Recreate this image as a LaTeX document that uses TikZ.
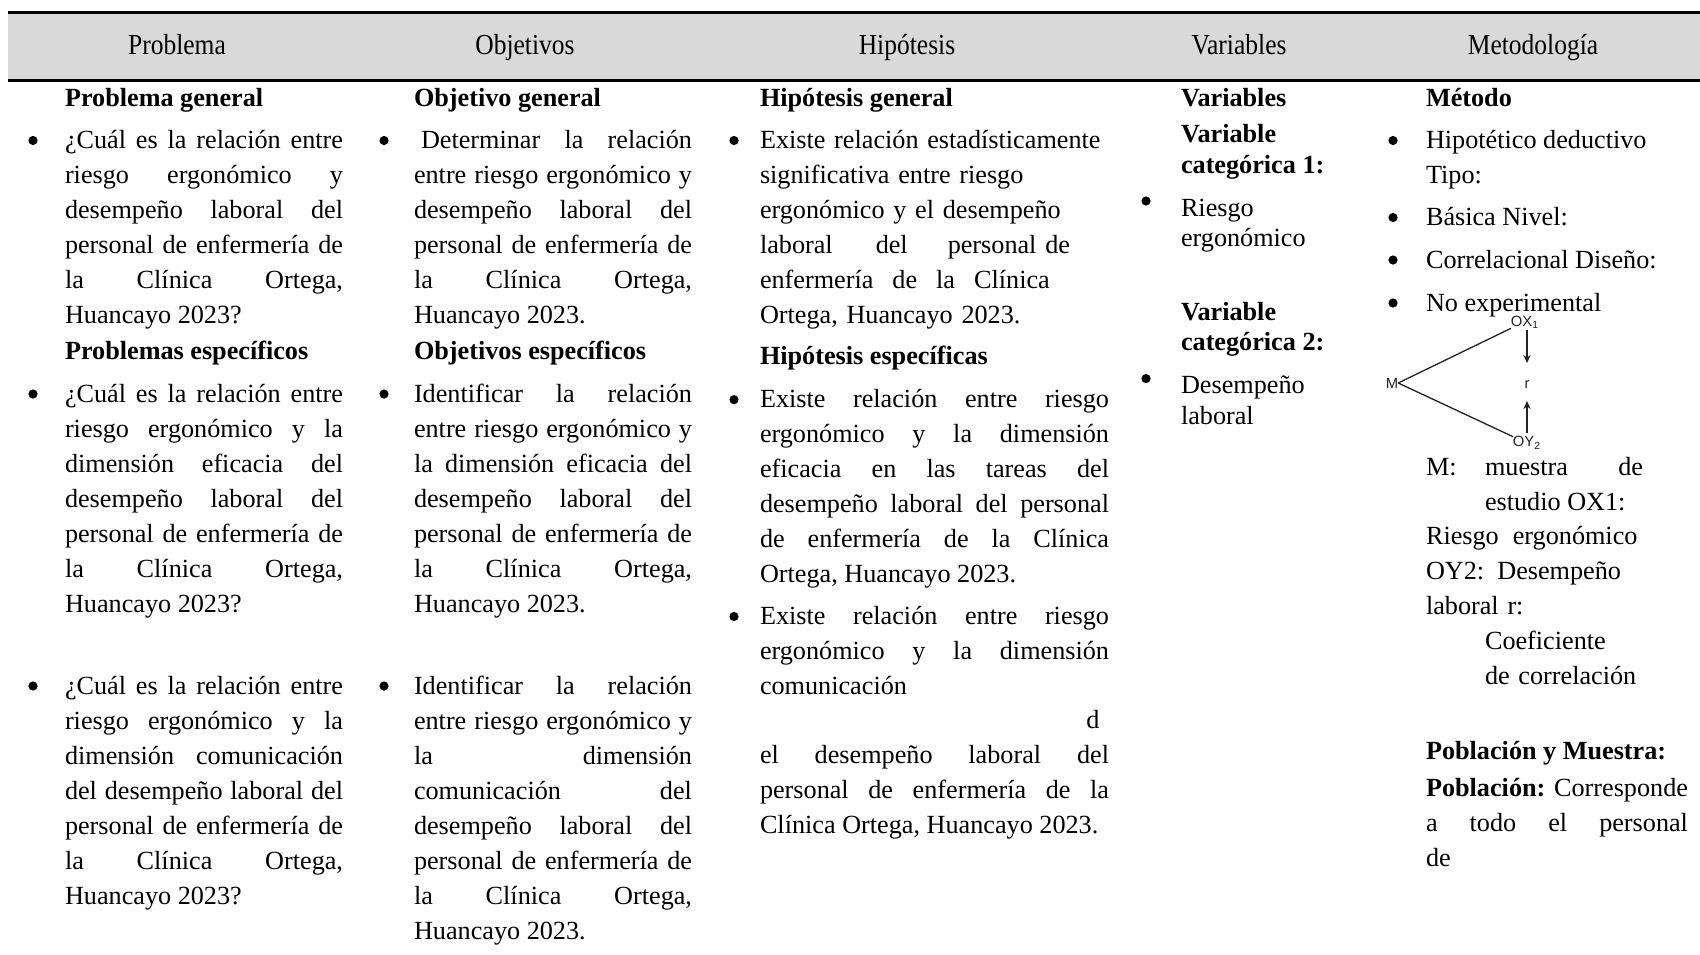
\documentclass[tikz,border=0pt]{standalone}
\usepackage{fontspec}
\setmainfont{Liberation Serif}
\newfontfamily\hdrfont[FakeStretch=0.88]{Liberation Serif}
\newfontfamily\dgmfont{Liberation Sans}
\usetikzlibrary{arrows.meta}
\definecolor{hdrgray}{HTML}{D9D9D9}
\definecolor{dgmgray}{HTML}{222222}
\newcommand\bodysize{\fontsize{13.1pt}{17.5pt}\selectfont}
\tolerance=10000
\hbadness=10000
\hyphenpenalty=10000
\tikzset{
  every node/.style={inner sep=0pt, outer sep=0pt},
  hdr/.style={anchor=base, font=\hdrfont\fontsize{14.5pt}{17pt}\selectfont},
  head/.style={anchor=base west, font=\bodysize\bfseries},
  txt/.style={anchor=base west, font=\bodysize},
  jpar/.style={anchor=base west, font=\bodysize, align=justify, text width=#1},
  lpar/.style={anchor=base west, font=\bodysize, align=left, text width=#1},
  dlab/.style={font=\dgmfont\fontsize{7.4pt}{8pt}\selectfont, text=dgmgray},
  dline/.style={draw=dgmgray, line width=0.65pt},
  darr/.style={dline, -{Stealth[length=4pt,width=3.6pt]}},
}
\begin{document}
\begin{tikzpicture}[x=0.5pt,y=-0.5pt]
\useasboundingbox (0,0) rectangle (1700,954);
\fill[white] (0,0) rectangle (1700,954);
% header band
\fill[hdrgray] (8,12) rectangle (1700,80);
\draw[line width=1.5pt] (8,12) -- (1700,12);
\draw[line width=1.5pt] (8,80) -- (1700,80);
\node[hdr] (h1) at (177,54) {Problema};
\node[hdr] (h2) at (525,54) {Objetivos};
\node[hdr] (h3) at (907,54) {Hipótesis};
\node[hdr] (h4) at (1239,54) {Variables};
\node[hdr] (h5) at (1533,54) {Metodología};
% bullets
\foreach \bx/\by in {33/148.5,33/402,33/694,384/148.5,384/402,384/694,734/148.5,734/407.7,734/624.5,1393/148.5,1393/225.5,1393/268,1393/311}
  \fill (\bx,\by-8) circle (2.3pt);
\foreach \bx/\by in {1146/216,1146/393.6}
  \fill (\bx,\by-15) circle (2.3pt);
% column 1
\node[head] (pg) at (65,106) {Problema general};
\node[jpar=139pt] (p1) at (65,148.5) {¿Cuál es la relación entre\linebreak riesgo ergonómico y\linebreak desempeño laboral del\linebreak personal de enfermería de\linebreak la Clínica Ortega,\linebreak Huancayo 2023?};
\node[head] (pe) at (65,359) {Problemas específicos};
\node[jpar=139pt] (p2) at (65,402) {¿Cuál es la relación entre\linebreak riesgo ergonómico y la\linebreak dimensión eficacia del\linebreak desempeño laboral del\linebreak personal de enfermería de\linebreak la Clínica Ortega,\linebreak Huancayo 2023?};
\node[jpar=139pt] (p3) at (65,694) {¿Cuál es la relación entre\linebreak riesgo ergonómico y la\linebreak dimensión comunicación\linebreak del desempeño laboral del\linebreak personal de enfermería de\linebreak la Clínica Ortega,\linebreak Huancayo 2023?};
% column 2
\node[head] (og) at (414,106) {Objetivo general};
\node[jpar=139pt] (o1) at (414,148.5) {\hspace*{3.5pt}Determinar la relación\linebreak entre riesgo ergonómico y\linebreak desempeño laboral del\linebreak personal de enfermería de\linebreak la Clínica Ortega,\linebreak Huancayo 2023.};
\node[head] (oe) at (414,359) {Objetivos específicos};
\node[jpar=139pt] (o2) at (414,402) {Identificar la relación\linebreak entre riesgo ergonómico y\linebreak la dimensión eficacia del\linebreak desempeño laboral del\linebreak personal de enfermería de\linebreak la Clínica Ortega,\linebreak Huancayo 2023.};
\node[jpar=139pt] (o3) at (414,694) {Identificar la relación\linebreak entre riesgo ergonómico y\linebreak la dimensión\linebreak comunicación del\linebreak desempeño laboral del\linebreak personal de enfermería de\linebreak la Clínica Ortega,\linebreak Huancayo 2023.};
% column 3
\node[head] (hg) at (760,106) {Hipótesis general};
\node[lpar=174.5pt] (h1p) at (760,148.5) {Existe relación estadísticamente\\ significativa entre riesgo\\ ergonómico y el desempeño\\ laboral\hspace{21.5pt}del\hspace{20pt}personal de\\ enfermería\hspace{9.5pt}de\hspace{9.5pt}la\hspace{9.5pt}Clínica\\ Ortega, Huancayo 2023.};
\node[head] (he) at (760,364) {Hipótesis específicas};
\node[jpar=174.5pt] (h2p) at (760,407.7) {Existe relación entre riesgo\linebreak ergonómico y la dimensión\linebreak eficacia en las tareas del\linebreak desempeño laboral del personal\linebreak de enfermería de la Clínica\linebreak Ortega, Huancayo 2023.};
\node[jpar=174.5pt] (h3p) at (760,624.5) {Existe relación entre riesgo\linebreak ergonómico y la dimensión\linebreak comunicación};
\node[txt, anchor=base] (hd) at (1093,728.6) {d};
\node[jpar=174.5pt] (h4p) at (760,763) {el desempeño laboral del\linebreak personal de enfermería de la\linebreak Clínica Ortega, Huancayo 2023.};
% column 4
\node[head] (v0) at (1181,106) {Variables};
\node[head] (v1a) at (1181,142) {Variable};
\node[head] (v1b) at (1181,173.5) {categórica 1:};
\node[txt] (v1c) at (1181,216) {Riesgo};
\node[txt] (v1d) at (1181,246) {ergonómico};
\node[head] (v2a) at (1181,320) {Variable};
\node[head] (v2b) at (1181,350) {categórica 2:};
\node[txt] (v2c) at (1181,393.6) {Desempeño};
\node[txt] (v2d) at (1181,424) {laboral};
% column 5
\node[head] (m0) at (1426,106) {Método};
\node[txt] (m1) at (1426,148.5) {Hipotético deductivo};
\node[txt] (m2) at (1426,183.5) {Tipo:};
\node[txt] (m3) at (1426,225.5) {Básica Nivel:};
\node[txt] (m4) at (1426,268) {Correlacional Diseño:};
\node[txt] (m5) at (1426,311) {No experimental};
% design diagram
\node[dlab] (M) at (1392,383) {M};
\node[dlab] (ox) at (1525,322) {OX\textsubscript{1}};
\node[dlab] (r) at (1527,385) {r};
\node[dlab] (oy) at (1527,443) {OY\textsubscript{2}};
\draw[dline] (M.east) -- (ox.south west);
\draw[dline] (M.east) -- (oy.north west);
\draw[darr] ([yshift=-1pt]ox.south -| r.center) -- ([yshift=9pt]r.north);
\draw[darr] ([yshift=2pt]oy.north -| r.center) -- ([yshift=-6pt]r.south);
% legend
\node[txt] (mk) at (1426,475) {M:};
\node[jpar=79pt] (mm) at (1485,475) {muestra de\linebreak estudio OX1:};
\node[lpar=130pt] (ml) at (1426,544) {Riesgo\hspace{7pt}ergonómico\\ OY2: Desempeño\\ laboral r:};
\node[lpar=100pt] (mc) at (1485,649.5) {Coeficiente\\ de correlación};
\node[head] (pm) at (1426,759) {Población y Muestra:};
\node[jpar=131pt] (pp) at (1426,796) {\textbf{Población:} Corresponde\linebreak a todo el personal\linebreak de};
\end{tikzpicture}
\end{document}
